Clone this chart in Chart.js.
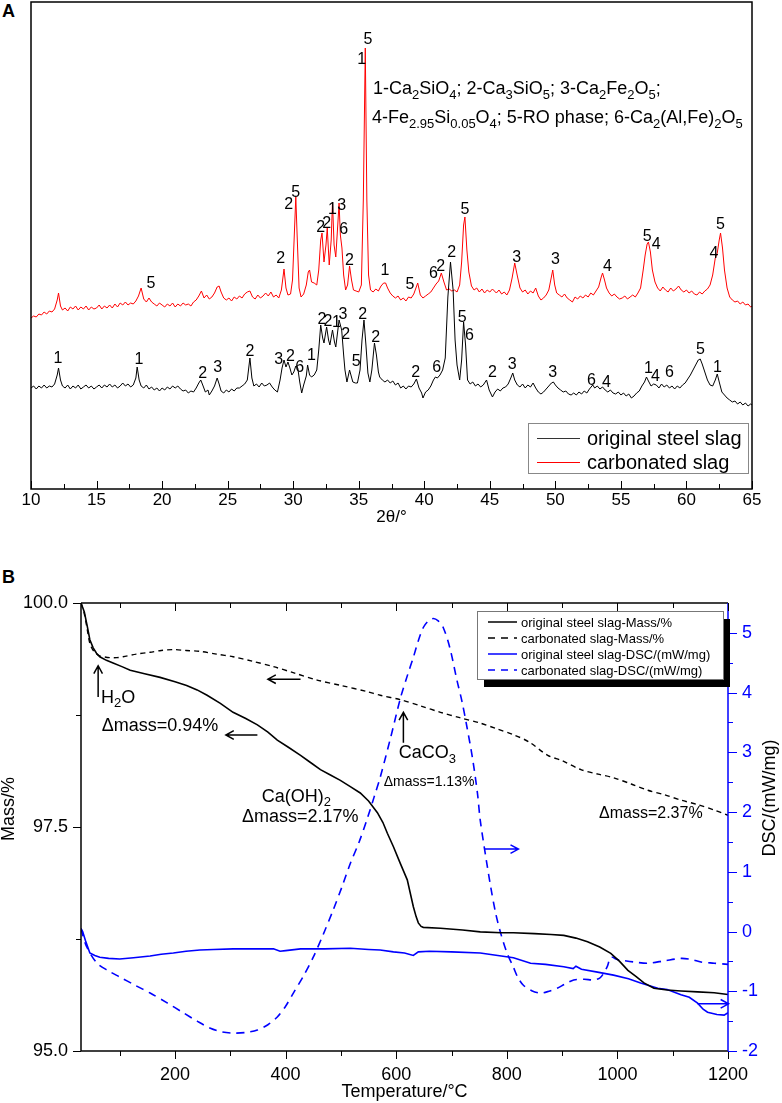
<!DOCTYPE html>
<html>
<head>
<meta charset="utf-8">
<title>XRD and TG-DSC of steel slag</title>
<script src="https://cdn.jsdelivr.net/npm/chart.js@4.4.1/dist/chart.umd.min.js"></script>
<style>
  body { margin: 0; background: #fff; width: 782px; height: 1103px; position: relative; overflow: hidden; font-family: "Liberation Sans", Arial, sans-serif; }
  .panel { position: absolute; left: 0; }
  .tag { position: absolute; left: 2px; font-weight: bold; font-size: 18px; }
</style>
</head>
<body>
<div class="tag" style="top:1px">A</div>
<div class="tag" style="top:567px">B</div>
<canvas id="xrd" class="panel" style="top:0" width="782" height="540"></canvas>
<canvas id="tg" class="panel" style="top:560px" width="782" height="543"></canvas>
<script>
(function () {
  'use strict';

  var FONT = '"Liberation Sans", Arial, sans-serif';

  // ---- Panel A : XRD patterns, [2theta, intensity a.u.] ----
  var originalXRD = [
    [10.0,101],[10.2,103],[10.4,100],[10.6,103],[10.8,101],[11.0,104],[11.2,101],[11.4,103],[11.6,102],[11.8,105],
    [12.0,114],[12.1,121],[12.25,109],[12.4,103],[12.6,101],[12.8,104],[13.0,100],[13.2,103],[13.4,101],[13.6,104],
    [13.8,100],[14.0,102],[14.2,104],[14.4,101],[14.6,103],[14.8,100],[15.0,102],[15.2,104],[15.4,101],[15.6,104],
    [15.8,102],[16.0,105],[16.2,102],[16.4,104],[16.6,101],[16.8,103],[17.0,106],[17.2,103],[17.4,105],[17.6,102],
    [17.8,104],[18.0,111],[18.1,122],[18.25,109],[18.4,103],[18.6,101],[18.8,104],[19.0,100],[19.2,102],[19.4,99],
    [19.6,101],[19.8,98],[20.0,101],[20.2,99],[20.4,102],[20.6,100],[20.8,103],[21.0,101],[21.2,103],[21.4,100],
    [21.6,98],[21.8,99],[22.0,96],[22.2,98],[22.4,97],[22.6,101],[22.8,106],[22.95,109],[23.1,104],[23.3,97],
    [23.5,99],[23.6,94],[23.8,98],[24.0,103],[24.2,111],[24.35,105],[24.5,98],[24.7,96],[24.9,99],[25.1,97],
    [25.3,100],[25.5,98],[25.7,101],[25.9,101],[26.1,103],[26.3,105],[26.5,109],[26.7,131],[26.85,111],[27.0,103],
    [27.2,105],[27.4,102],[27.6,106],[27.8,103],[28.0,104],[28.2,106],[28.4,102],[28.6,99],[28.8,97],[29.0,109],
    [29.15,121],[29.3,129],[29.45,122],[29.6,127],[29.75,121],[29.9,114],[30.05,117],[30.2,123],[30.35,121],[30.5,107],
    [30.65,96],[30.8,104],[31.0,113],[31.1,124],[31.25,114],[31.4,112],[31.6,114],[31.8,119],[31.95,139],[32.1,164],
    [32.25,151],[32.35,146],[32.55,162],[32.7,149],[32.8,144],[33.0,159],[33.15,147],[33.25,142],[33.5,169],[33.7,159],
    [33.85,134],[33.95,119],[34.1,107],[34.3,119],[34.55,107],[34.75,106],[34.9,106],[35.1,119],[35.25,149],[35.4,169],
    [35.55,144],[35.7,116],[35.85,107],[36.0,119],[36.2,146],[36.35,134],[36.5,117],[36.6,112],[36.8,109],[37.0,107],
    [37.2,109],[37.4,106],[37.6,108],[37.8,104],[38.0,106],[38.2,101],[38.4,103],[38.6,100],[38.8,103],[39.0,102],
    [39.2,105],[39.4,110],[39.6,101],[39.8,96],[39.9,91],[40.1,97],[40.3,99],[40.5,103],[40.7,109],[40.85,112],
    [41.0,111],[41.2,114],[41.4,119],[41.6,131],[41.8,192],[42.0,227],[42.2,199],[42.35,149],[42.5,124],[42.7,109],
    [42.85,129],[43.0,167],[43.15,144],[43.3,109],[43.5,105],[43.7,107],[43.9,103],[44.1,105],[44.3,102],[44.5,104],
    [44.75,109],[44.95,99],[45.2,92],[45.4,97],[45.6,100],[45.8,98],[46.0,101],[46.2,102],[46.4,105],[46.6,111],
    [46.75,116],[46.9,109],[47.1,104],[47.3,102],[47.5,105],[47.7,101],[47.9,104],[48.1,102],[48.3,106],[48.5,101],
    [48.7,97],[48.9,95],[49.1,97],[49.3,100],[49.5,103],[49.7,106],[49.85,107],[50.0,104],[50.2,101],[50.4,99],
    [50.6,97],[50.8,98],[51.0,95],[51.2,94],[51.4,96],[51.6,94],[51.8,97],[52.0,95],[52.2,98],[52.4,96],
    [52.6,100],[52.85,104],[53.0,101],[53.2,103],[53.4,100],[53.6,102],[53.8,99],[54.0,97],[54.2,99],[54.4,96],
    [54.6,95],[54.8,97],[55.0,94],[55.2,96],[55.4,93],[55.6,95],[55.8,91],[56.0,93],[56.2,96],[56.4,98],
    [56.6,103],[56.8,107],[56.95,112],[57.1,108],[57.3,103],[57.5,105],[57.7,104],[57.9,101],[58.1,105],[58.3,102],
    [58.5,104],[58.7,101],[58.9,103],[59.1,100],[59.3,103],[59.5,101],[59.7,104],[59.9,106],[60.1,110],[60.3,114],
    [60.5,119],[60.7,124],[60.9,129],[61.05,130],[61.2,125],[61.4,117],[61.6,109],[61.8,104],[62.0,103],[62.2,109],
    [62.35,115],[62.5,107],[62.7,97],[62.9,94],[63.1,91],[63.3,89],[63.5,87],[63.7,88],[63.9,85],[64.1,87],
    [64.3,84],[64.5,86],[64.7,83],[64.9,85],[65.0,84]
  ];

  var carbonatedXRD = [
    [10.0,171],[10.2,173],[10.4,172],[10.6,175],[10.8,174],[11.0,177],[11.2,175],[11.4,178],[11.6,177],[11.8,180],
    [12.0,189],[12.1,196],[12.25,183],[12.4,179],[12.6,181],[12.8,178],[13.0,182],[13.2,180],[13.4,183],[13.6,179],
    [13.8,182],[14.0,180],[14.2,183],[14.4,179],[14.6,182],[14.8,180],[15.0,181],[15.2,184],[15.4,180],[15.6,183],
    [15.8,181],[16.0,184],[16.2,181],[16.4,185],[16.6,182],[16.8,186],[17.0,184],[17.2,187],[17.4,184],[17.6,186],
    [17.8,185],[18.0,188],[18.2,193],[18.4,201],[18.6,190],[18.8,187],[19.0,191],[19.2,187],[19.4,185],[19.6,183],
    [19.8,186],[20.0,184],[20.2,182],[20.4,185],[20.6,183],[20.8,186],[21.0,182],[21.2,185],[21.4,183],[21.6,186],
    [21.8,184],[22.0,185],[22.2,183],[22.4,187],[22.6,189],[22.8,193],[23.0,198],[23.2,191],[23.4,194],[23.6,190],
    [23.8,192],[24.0,196],[24.2,202],[24.35,203],[24.5,197],[24.7,191],[24.9,189],[25.1,191],[25.3,188],[25.5,192],
    [25.7,190],[25.9,193],[26.1,191],[26.3,195],[26.5,197],[26.7,198],[26.9,192],[27.1,190],[27.3,194],[27.5,191],
    [27.7,193],[27.9,196],[28.1,193],[28.3,197],[28.5,192],[28.7,194],[28.9,191],[29.1,199],[29.3,220],[29.45,201],
    [29.6,194],[29.8,195],[29.95,209],[30.1,259],[30.2,292],[30.3,254],[30.45,201],[30.6,192],[30.8,195],[31.0,204],
    [31.15,217],[31.25,219],[31.4,207],[31.6,206],[31.8,204],[31.95,219],[32.1,249],[32.2,256],[32.35,227],[32.5,244],
    [32.6,261],[32.75,224],[32.9,249],[33.0,287],[33.12,244],[33.25,232],[33.4,264],[33.5,286],[33.6,254],[33.72,241],
    [33.85,214],[34.0,199],[34.15,204],[34.3,223],[34.45,209],[34.6,199],[34.8,198],[35.0,197],[35.2,204],[35.35,289],
    [35.5,441],[35.62,289],[35.75,214],[35.9,199],[36.1,197],[36.3,200],[36.5,198],[36.7,203],[36.9,206],[37.05,206],
    [37.2,201],[37.4,196],[37.6,193],[37.8,191],[38.0,193],[38.2,189],[38.4,191],[38.6,188],[38.8,192],[39.0,191],
    [39.2,195],[39.5,206],[39.7,194],[39.9,191],[40.1,193],[40.3,195],[40.5,197],[40.7,201],[40.9,205],[41.1,208],
    [41.3,216],[41.5,207],[41.7,199],[41.9,200],[42.1,198],[42.3,199],[42.5,197],[42.7,204],[42.85,227],[43.0,264],
    [43.1,272],[43.25,239],[43.4,217],[43.6,203],[43.8,199],[44.0,201],[44.2,197],[44.4,200],[44.6,196],[44.8,199],
    [45.0,197],[45.2,200],[45.5,196],[45.7,199],[45.9,195],[46.1,197],[46.3,194],[46.5,199],[46.7,211],[46.9,226],
    [47.1,213],[47.3,201],[47.5,197],[47.7,199],[47.9,195],[48.1,198],[48.3,196],[48.5,201],[48.7,193],[48.9,189],
    [49.1,191],[49.3,194],[49.5,199],[49.65,209],[49.8,219],[49.95,204],[50.1,196],[50.3,194],[50.5,192],[50.7,195],
    [50.9,191],[51.1,189],[51.3,187],[51.5,192],[51.7,190],[51.9,193],[52.1,191],[52.3,194],[52.5,192],[52.7,196],
    [52.9,194],[53.1,198],[53.3,202],[53.5,212],[53.6,216],[53.75,209],[53.9,201],[54.1,196],[54.3,193],[54.5,195],
    [54.7,192],[54.9,190],[55.1,191],[55.3,193],[55.5,190],[55.7,192],[55.9,194],[56.1,192],[56.3,196],[56.5,201],
    [56.7,219],[56.85,234],[57.0,245],[57.1,247],[57.25,237],[57.4,219],[57.6,207],[57.8,201],[58.0,198],[58.2,202],
    [58.4,199],[58.6,197],[58.8,201],[59.0,198],[59.2,200],[59.4,203],[59.6,199],[59.8,197],[60.0,199],[60.2,196],
    [60.4,198],[60.6,195],[60.8,194],[61.0,197],[61.2,195],[61.4,198],[61.6,200],[61.8,204],[62.0,214],[62.2,231],
    [62.35,236],[62.5,249],[62.6,256],[62.75,241],[62.9,219],[63.1,201],[63.3,192],[63.5,189],[63.7,187],[63.9,188],
    [64.1,185],[64.3,187],[64.5,184],[64.7,185],[64.9,182],[65.0,183]
  ];

  // peak assignments: [2theta, intensity, phase number]
  var peakLabels = [
    [19.15,205,'5'],[29.05,230,'2'],[29.66,284,'2'],[30.2,296,'5'],[32.1,261,'2'],[32.56,265,'2'],
    [33.0,279,'1'],[33.7,283,'3'],[33.86,259,'6'],[34.3,228,'2'],[35.7,449,'5'],[35.23,429,'1'],
    [37.0,218,'1'],[38.9,204,'5'],[40.7,215,'6'],[41.25,222,'2'],[43.1,279,'5'],[47.05,231,'3'],
    [50.0,229,'3'],[53.98,222,'4'],[57.0,252,'5'],[57.7,244,'4'],[62.6,264,'5'],[62.1,235,'4'],
    [12.06,130,'1'],[18.23,129,'1'],[23.1,115,'2'],[24.25,121,'3'],[26.7,137,'2'],[28.9,129,'3'],
    [29.8,132,'2'],[30.5,121,'6'],[31.4,133,'1'],[32.2,169,'2'],[32.65,167,'2'],[33.3,166,'1'],
    [33.8,174,'3'],[34.0,154,'2'],[34.8,127,'5'],[35.3,174,'2'],[36.3,151,'2'],[39.35,116,'2'],
    [40.95,121,'6'],[42.1,236,'2'],[42.9,171,'5'],[43.45,153,'6'],[45.2,116,'2'],[46.7,124,'3'],
    [49.8,116,'3'],[52.75,108,'6'],[53.9,106,'4'],[57.1,120,'1'],[57.64,112,'4'],[58.7,116,'6'],
    [61.07,139,'5'],[62.36,121,'1']
  ];

  var phaseKey = [
    '1-Ca_{2}SiO_{4}; 2-Ca_{3}SiO_{5}; 3-Ca_{2}Fe_{2}O_{5};',
    '4-Fe_{2.95}Si_{0.05}O_{4}; 5-RO phase; 6-Ca_{2}(Al,Fe)_{2}O_{5}'
  ];

  // ---- Panel B : TG / DSC, temperature in °C ----
  var massOrigT = [30,36,42,46,52,58,64,76,88,104,119,145,173,200,221,240,258,282,305,328,349,368,385,405,427,445,463,481,499,517,535,550,566,576,584,595,607,620,631,636,640,645,649,680,720,752,790,812,850,880,903,925,946,968,988,1004,1019,1034,1048,1066,1090,1115,1145,1175,1200];
  var massOrig  = [100.0,99.9,99.72,99.59,99.5,99.44,99.40,99.36,99.33,99.29,99.25,99.21,99.17,99.12,99.08,99.03,98.97,98.88,98.78,98.71,98.64,98.56,98.47,98.39,98.30,98.22,98.14,98.08,98.02,97.95,97.88,97.79,97.66,97.55,97.43,97.28,97.10,96.91,96.61,96.50,96.43,96.39,96.38,96.37,96.35,96.33,96.32,96.32,96.31,96.30,96.29,96.26,96.22,96.16,96.09,96.00,95.90,95.83,95.76,95.70,95.68,95.67,95.66,95.65,95.63];

  var massCarbT = [30,36,42,46,52,58,64,82,95,106,130,155,175,197,220,245,275,305,340,378,415,457,500,548,571,608,645,680,715,752,780,812,840,874,900,934,965,993,1025,1055,1085,1115,1145,1175,1200];
  var massCarb  = [100.0,99.88,99.68,99.55,99.47,99.43,99.41,99.39,99.39,99.40,99.43,99.45,99.47,99.48,99.47,99.46,99.43,99.40,99.35,99.29,99.22,99.14,99.08,99.01,98.97,98.92,98.85,98.78,98.72,98.66,98.60,98.53,98.45,98.30,98.24,98.14,98.09,98.05,97.98,97.91,97.86,97.80,97.75,97.69,97.63];

  var dscOrigT = [30,33,38,46,55,64,80,100,125,155,175,197,220,245,270,305,340,378,390,400,427,470,517,550,571,595,615,631,640,660,700,752,790,812,843,870,903,920,925,935,964,993,1020,1042,1073,1090,1115,1130,1145,1155,1163,1180,1193,1200];
  var dscOrig  = [0.05,0.0,-0.15,-0.36,-0.40,-0.43,-0.45,-0.46,-0.44,-0.41,-0.38,-0.36,-0.33,-0.31,-0.30,-0.29,-0.29,-0.29,-0.33,-0.32,-0.29,-0.29,-0.28,-0.30,-0.31,-0.34,-0.36,-0.40,-0.34,-0.33,-0.34,-0.36,-0.41,-0.44,-0.53,-0.55,-0.59,-0.62,-0.58,-0.63,-0.68,-0.73,-0.79,-0.86,-0.95,-0.97,-1.06,-1.10,-1.20,-1.30,-1.35,-1.39,-1.40,-1.36];

  var dscCarbT = [30,40,59,80,100,128,155,185,215,240,264,285,305,328,349,368,385,400,414,432,450,468,486,502,517,533,548,560,571,590,608,620,631,640,649,658,667,676,685,697,710,719,728,738,747,752,762,771,780,789,800,812,820,830,845,861,876,891,905,921,940,957,968,975,982,988,1000,1006,1030,1055,1085,1115,1135,1151,1175,1200];
  var dscCarb  = [0.05,-0.25,-0.53,-0.66,-0.76,-0.90,-1.03,-1.19,-1.36,-1.50,-1.62,-1.68,-1.70,-1.69,-1.65,-1.56,-1.43,-1.25,-1.03,-0.75,-0.43,-0.05,0.36,0.75,1.14,1.50,1.90,2.25,2.58,3.25,3.92,4.28,4.59,4.87,5.09,5.20,5.24,5.20,5.09,4.75,4.20,3.85,3.42,2.90,2.31,1.86,1.25,0.74,0.30,-0.03,-0.35,-0.60,-0.77,-0.90,-0.99,-1.03,-1.00,-0.95,-0.88,-0.81,-0.80,-0.81,-0.78,-0.70,-0.58,-0.43,-0.47,-0.48,-0.51,-0.53,-0.49,-0.45,-0.47,-0.51,-0.53,-0.55];

  var tempTicks = [200, 400, 600, 800, 1000, 1200];
  var massTicks = [95, 97.5, 100];
  var dscTicks = [-2, -1, 0, 1, 2, 3, 4, 5];

  var legendB = [
    { text: 'original steel slag-Mass/%', color: '#000', dash: [] },
    { text: 'carbonated slag-Mass/%', color: '#000', dash: [7, 6] },
    { text: 'original steel slag-DSC/(mW/mg)', color: '#0000ff', dash: [] },
    { text: 'carbonated slag-DSC/(mW/mg)', color: '#0000ff', dash: [7, 6] }
  ];

  // annotations in data space: [T, value, text, font size]
  var notesB = [
    [66, 98.94, 'H_{2}O', 18],
    [67.5, 98.627, '\u0394mass=0.94%', 18],
    [357, 97.84, 'Ca(OH)_{2}', 18],
    [321, 97.608, '\u0394mass=2.17%', 18],
    [604.5, 98.322, 'CaCO_{3}', 18],
    [577.4, 98.006, '\u0394mass=1.13%', 14],
    [966.7, 97.653, '\u0394mass=2.37%', 16]
  ];
  var arrowsB = [
    { axis: 'yMass', from: [61, 98.95], to: [61, 99.30], color: '#000' },
    { axis: 'yMass', from: [349, 98.527], to: [292, 98.527], color: '#000' },
    { axis: 'yMass', from: [427, 99.15], to: [368, 99.15], color: '#000' },
    { axis: 'yMass', from: [613, 98.44], to: [613, 98.78], color: '#000' },
    { axis: 'yDsc', from: [760, 1.38], to: [821, 1.38], color: '#0000ff' },
    { axis: 'yDsc', from: [1145, -1.21], to: [1201, -1.21], color: '#0000ff' }
  ];

  function pts(xs, ys) {
    return xs.map(function (x, i) { return { x: x, y: ys[i] }; });
  }

  // text with _{sub} subscripts, left aligned, vertically centred on y
  function richText(ctx, str, x, y, size) {
    var parts = str.split(/_\{([^}]*)\}/);
    var cx = x;
    ctx.textAlign = 'left';
    ctx.textBaseline = 'middle';
    parts.forEach(function (p, i) {
      if (!p) return;
      var sub = i % 2 === 1;
      ctx.font = (sub ? Math.round(size * 0.7) : size) + 'px ' + FONT;
      ctx.fillText(p, cx, sub ? y + size * 0.33 : y);
      cx += ctx.measureText(p).width;
    });
  }

  function arrow(ctx, x1, y1, x2, y2) {
    var ang = Math.atan2(y2 - y1, x2 - x1), h = 9;
    ctx.beginPath();
    ctx.moveTo(x1, y1); ctx.lineTo(x2, y2);
    ctx.moveTo(x2 - h * Math.cos(ang - 0.5), y2 - h * Math.sin(ang - 0.5));
    ctx.lineTo(x2, y2);
    ctx.lineTo(x2 - h * Math.cos(ang + 0.5), y2 - h * Math.sin(ang + 0.5));
    ctx.stroke();
  }

  function line(ctx, x1, y1, x2, y2) {
    ctx.beginPath(); ctx.moveTo(x1, y1); ctx.lineTo(x2, y2); ctx.stroke();
  }

  var frameA = {
    id: 'frameA',
    afterDatasetsDraw: function (chart) {
      var ctx = chart.ctx, a = chart.chartArea, x = chart.scales.x, y = chart.scales.y;
      ctx.save();
      ctx.fillStyle = '#000';

      ctx.font = '16px ' + FONT;
      ctx.textAlign = 'center';
      ctx.textBaseline = 'middle';
      peakLabels.forEach(function (p) {
        ctx.fillText(p[2], x.getPixelForValue(p[0]), y.getPixelForValue(p[1]));
      });

      ctx.strokeStyle = '#000';
      ctx.lineWidth = 1.5;
      ctx.strokeRect(a.left, a.top, a.right - a.left, a.bottom - a.top);
      ctx.lineWidth = 1;
      for (var v = 10; v <= 65; v += 2.5) {
        var px = Math.round(x.getPixelForValue(v)) + 0.5;
        line(ctx, px, a.bottom, px, a.bottom - (v % 5 === 0 ? 8 : 5));
      }

      richText(ctx, phaseKey[0], 373, 89, 18);
      richText(ctx, phaseKey[1], 372, 118, 18);

      // legend
      var bx = a.right - 224, by = a.bottom - 66;
      ctx.strokeStyle = '#888';
      ctx.lineWidth = 1;
      ctx.strokeRect(bx + 0.5, by + 0.5, 220, 50);
      var items = [['original steel slag', '#333'], ['carbonated slag', '#ff0000']];
      items.forEach(function (it, i) {
        var ly = by + 15 + i * 24;
        ctx.strokeStyle = it[1];
        line(ctx, bx + 9, ly + 0.5, bx + 52, ly + 0.5);
        ctx.fillStyle = '#000';
        ctx.font = '20px ' + FONT;
        ctx.textAlign = 'left';
        ctx.fillText(it[0], bx + 59, ly + 1);
      });
      ctx.restore();
    }
  };

  var frameB = {
    id: 'frameB',
    afterDatasetsDraw: function (chart) {
      var ctx = chart.ctx, a = chart.chartArea, s = chart.scales;
      var x = s.x, ym = s.yMass, yd = s.yDsc;
      ctx.save();

      // frame
      ctx.lineWidth = 1.5;
      ctx.strokeStyle = '#000';
      line(ctx, a.left, a.top, a.right, a.top);
      line(ctx, a.left, a.bottom, a.right, a.bottom);
      line(ctx, a.left, a.top, a.left, a.bottom);
      ctx.strokeStyle = '#0000ff';
      line(ctx, a.right, a.top, a.right, a.bottom);

      // tick marks
      ctx.lineWidth = 1;
      ctx.strokeStyle = '#000';
      for (var t = 100; t <= 1200; t += 100) {
        var px = Math.round(x.getPixelForValue(t)) + 0.5;
        var len = t % 200 === 0 ? 8 : 5;
        line(ctx, px, a.bottom, px, a.bottom + len);
        line(ctx, px, a.top, px, a.top + len);
      }
      for (var m = 95; m <= 100; m += 1.25) {
        var py = Math.round(ym.getPixelForValue(m)) + 0.5;
        line(ctx, a.left, py, a.left - ((m - 95) % 2.5 === 0 ? 8 : 5), py);
      }
      ctx.strokeStyle = '#0000ff';
      for (var d = -2; d <= 5; d += 0.5) {
        var qy = Math.round(yd.getPixelForValue(d)) + 0.5;
        line(ctx, a.right, qy, a.right + (d % 1 === 0 ? 9 : 5), qy);
      }

      // axis titles, both read bottom to top
      ctx.fillStyle = '#000';
      ctx.font = '18px ' + FONT;
      ctx.textAlign = 'center';
      ctx.textBaseline = 'middle';
      ctx.save(); ctx.translate(9, 249); ctx.rotate(-Math.PI / 2); ctx.fillText('Mass/%', 0, 0); ctx.restore();
      ctx.save(); ctx.translate(770, 238); ctx.rotate(-Math.PI / 2); ctx.fillText('DSC/(mW/mg)', 0, 0); ctx.restore();

      // arrows
      ctx.lineWidth = 1.5;
      arrowsB.forEach(function (ar) {
        var sc = s[ar.axis];
        ctx.strokeStyle = ar.color;
        arrow(ctx, x.getPixelForValue(ar.from[0]), sc.getPixelForValue(ar.from[1]),
          x.getPixelForValue(ar.to[0]), sc.getPixelForValue(ar.to[1]));
      });

      // notes
      ctx.fillStyle = '#000';
      notesB.forEach(function (n) {
        richText(ctx, n[2], x.getPixelForValue(n[0]), ym.getPixelForValue(n[1]), n[3]);
      });

      // legend with drop shadow
      var bx = a.right - 251, by = a.top + 8, bw = 246, bh = 68;
      ctx.fillStyle = '#000';
      ctx.fillRect(bx + 7, by + 8, bw, bh);
      ctx.fillStyle = '#fff';
      ctx.fillRect(bx, by, bw, bh);
      ctx.strokeStyle = '#777';
      ctx.lineWidth = 1;
      ctx.strokeRect(bx + 0.5, by + 0.5, bw, bh);
      legendB.forEach(function (it, i) {
        var ly = by + 11 + i * 16;
        ctx.strokeStyle = it.color;
        ctx.lineWidth = 1.5;
        ctx.setLineDash(it.dash);
        line(ctx, bx + 11, ly, bx + 40, ly);
        ctx.setLineDash([]);
        ctx.fillStyle = '#000';
        ctx.font = '13px ' + FONT;
        ctx.textAlign = 'left';
        ctx.textBaseline = 'middle';
        ctx.fillText(it.text, bx + 44, ly + 1);
      });
      ctx.restore();
    }
  };

  new Chart(document.getElementById('xrd'), {
    type: 'line',
    data: {
      datasets: [
        { label: 'original steel slag', data: originalXRD.map(function (p) { return { x: p[0], y: p[1] }; }),
          borderColor: '#000', borderWidth: 1, pointRadius: 0, tension: 0 },
        { label: 'carbonated slag', data: carbonatedXRD.map(function (p) { return { x: p[0], y: p[1] }; }),
          borderColor: '#ff0000', borderWidth: 1, pointRadius: 0, tension: 0 }
      ]
    },
    options: {
      responsive: false,
      animation: false,
      layout: { padding: { left: 31, right: 30, top: 2, bottom: 0 } },
      plugins: { legend: { display: false }, tooltip: { enabled: false } },
      scales: {
        x: {
          type: 'linear', min: 10, max: 65,
          ticks: { stepSize: 5, color: '#000', padding: 1, maxRotation: 0, font: { size: 17, family: FONT },
            callback: function (v) { return String(v); } },
          grid: { display: false, drawTicks: false },
          border: { display: false },
          title: { display: true, text: '2θ/°', color: '#000', font: { size: 17, family: FONT }, padding: { top: 0, bottom: 12 } },
          afterFit: function (sc) { sc.height = 51; }
        },
        y: { display: false, min: 0, max: 487 }
      }
    },
    plugins: [frameA]
  });

  new Chart(document.getElementById('tg'), {
    type: 'line',
    data: {
      datasets: [
        { label: 'original steel slag-Mass/%', data: pts(massOrigT, massOrig), yAxisID: 'yMass',
          borderColor: '#000', borderWidth: 1.6, pointRadius: 0, tension: 0 },
        { label: 'carbonated slag-Mass/%', data: pts(massCarbT, massCarb), yAxisID: 'yMass',
          borderColor: '#000', borderWidth: 1.4, borderDash: [5, 4], pointRadius: 0, tension: 0.3 },
        { label: 'original steel slag-DSC/(mW/mg)', data: pts(dscOrigT, dscOrig), yAxisID: 'yDsc',
          borderColor: '#0000ff', borderWidth: 1.6, pointRadius: 0, tension: 0 },
        { label: 'carbonated slag-DSC/(mW/mg)', data: pts(dscCarbT, dscCarb), yAxisID: 'yDsc',
          borderColor: '#0000ff', borderWidth: 1.6, borderDash: [8, 6], pointRadius: 0, tension: 0.3 }
      ]
    },
    options: {
      responsive: false,
      animation: false,
      layout: { padding: { left: 0, right: 0, top: 43, bottom: 0 } },
      plugins: { legend: { display: false }, tooltip: { enabled: false } },
      scales: {
        x: {
          type: 'linear', min: 30, max: 1200,
          afterBuildTicks: function (sc) { sc.ticks = tempTicks.map(function (v) { return { value: v }; }); },
          ticks: { color: '#000', padding: 13, maxRotation: 0, font: { size: 18, family: FONT },
            callback: function (v) { return String(v); } },
          grid: { display: false, drawTicks: false },
          border: { display: false },
          title: { display: true, text: 'Temperature/°C', color: '#000', font: { size: 18, family: FONT }, padding: { top: 0, bottom: 0 } },
          afterFit: function (sc) { sc.height = 52; }
        },
        yMass: {
          type: 'linear', position: 'left', min: 95, max: 100,
          afterBuildTicks: function (sc) { sc.ticks = massTicks.map(function (v) { return { value: v }; }); },
          ticks: { color: '#000', padding: 13, font: { size: 18, family: FONT },
            callback: function (v) { return Number(v).toFixed(1); } },
          grid: { display: false, drawTicks: false },
          border: { display: false },
          afterFit: function (sc) { sc.width = 81; }
        },
        yDsc: {
          type: 'linear', position: 'right', min: -2, max: 5.5,
          afterBuildTicks: function (sc) { sc.ticks = dscTicks.map(function (v) { return { value: v }; }); },
          ticks: { color: '#0000ff', padding: 14, font: { size: 18, family: FONT },
            callback: function (v) { return String(v); } },
          grid: { display: false, drawTicks: false },
          border: { display: false },
          afterFit: function (sc) { sc.width = 54; }
        }
      }
    },
    plugins: [frameB]
  });
})();
</script>
</body>
</html>
